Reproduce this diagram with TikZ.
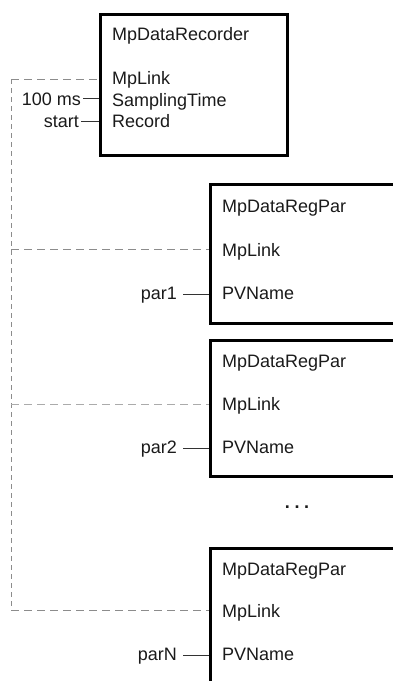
\documentclass[tikz,border=0pt]{standalone}
\usepackage{fontspec}
\setmainfont{Liberation Sans}
\begin{document}
\begin{tikzpicture}[x=1pt,y=-1pt,
  every node/.style={font=\fontsize{18}{20}\selectfont, text=txt, inner sep=0pt},
  blockbox/.style={draw=black, line width=3pt, rectangle, minimum width=#1, anchor=north west},
  port/.style={anchor=base west},
  lbl/.style={anchor=base east},
  wire/.style={draw=wirec, line width=1pt},
  dashh/.style={draw=dashc, line width=1pt, dash pattern=on 8pt off 5pt},
  dashv/.style={draw=dashc, line width=1pt, dash pattern=on 5pt off 4pt}]
\definecolor{txt}{HTML}{1A1A1A}
\definecolor{wirec}{HTML}{333333}
\definecolor{dashc}{HTML}{8C8C8C}
\definecolor{dashl}{HTML}{ABABAB}
\useasboundingbox (0,0) rectangle (393,681);
\clip (0,0) rectangle (393,681);

% top block
\node[blockbox=187, minimum height=141] (rec) at (99,13) {};
\node[port] (rt) at (112,40) {MpDataRecorder};
\node[port] (rl) at (112,84) {MpLink};
\node[port] (rs) at (112,106) {SamplingTime};
\node[port] (rr) at (112,127) {Record};
\node[lbl] (ms) at (81,105) {100 ms};
\node[lbl] (st) at (79,127) {start};
\draw[wire] ([xshift=2pt]ms.east) -- (ms.east -| rec.west);
\draw[wire] ([xshift=2pt]st.east) -- (st.east -| rec.west);

% block 1
\node[blockbox=200, minimum height=139] (b1) at (209,183) {};
\node[port] (b1t) at (222,212) {MpDataRegPar};
\node[port] (b1l) at (222,256) {MpLink};
\node[port] (b1p) at (222,299) {PVName};
\node[lbl] (p1) at (177,299) {par1};
\draw[wire] ([xshift=6pt]p1.east) -- (p1.east -| b1.west);

% block 2
\node[blockbox=200, minimum height=136] (b2) at (209,339) {};
\node[port] (b2t) at (222,367) {MpDataRegPar};
\node[port] (b2l) at (222,410) {MpLink};
\node[port] (b2p) at (222,453) {PVName};
\node[lbl] (p2) at (177,453) {par2};
\draw[wire] ([xshift=6pt]p2.east) -- (p2.east -| b2.west);

\node[anchor=base, font=\fontsize{18}{20}\selectfont\bfseries] (dots) at (297,508) {.\hspace{4.5pt}.\hspace{4.5pt}.};

% block N
\node[blockbox=200, minimum height=200] (b3) at (209,547) {};
\node[port] (b3t) at (222,575) {MpDataRegPar};
\node[port] (b3l) at (222,617) {MpLink};
\node[port] (b3p) at (222,660) {PVName};
\node[lbl] (p3) at (177,660) {parN};
\draw[wire] ([xshift=6pt]p3.east) -- (p3.east -| b3.west);

% link bus
\coordinate (j0) at (11,79);
\coordinate (j1) at (11,249);
\coordinate (j2) at (11,404);
\coordinate (j3) at (11,610);
\draw[dashv] (j0) -- (j3);
\draw[dashh] (j0) -- (j0 -| rec.west);
\draw[dashh] (j1) -- (j1 -| b1.west);
\draw[dashh, draw=dashl] (j2) -- (j2 -| b2.west);
\draw[dashh] (j3) -- (j3 -| b3.west);
\end{tikzpicture}
\end{document}
